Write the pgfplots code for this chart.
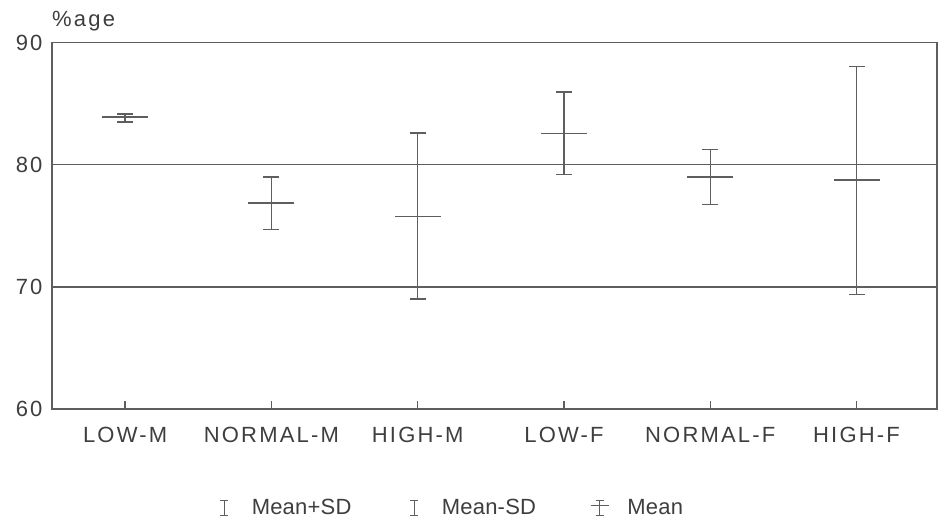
\documentclass[border=0pt]{standalone}
\usepackage{fontspec}
\setmainfont{Liberation Sans}[LetterSpace=10]
\usepackage{pgfplots}
\usepackage{pgfplotstable}
\pgfplotsset{compat=1.18}
\definecolor{ink}{HTML}{5E5E5E}
\definecolor{txt}{HTML}{3E3E3E}
\pgfplotstableread{
x upper mean lower
0 84.15 83.90 83.50
1 79.00 76.85 74.70
2 82.60 75.75 69.00
3 85.95 82.55 79.20
4 81.25 79.00 76.75
5 88.05 78.75 69.40
}\datatable
\newcommand{\lblfont}{\fontsize{22}{26}\selectfont}
\newcommand{\legfont}{\fontsize{22}{26}\selectfont\addfontfeature{LetterSpace=1}}
\begin{document}
\begin{tikzpicture}[font=\lblfont]
\begin{axis}[
  at={(52pt,119pt)}, anchor=south west,
  scale only axis, width=885pt, height=366.5pt,
  xmin=-0.5, xmax=5.55, ymin=60, ymax=90,
  xtick={0,1,2,3,4,5},
  xticklabels={LOW-M,NORMAL-M,HIGH-M,LOW-F,NORMAL-F,HIGH-F},
  ytick={60,70,80,90},
  ymajorgrids, grid style={ink, line width=1.4pt},
  axis line style={ink, line width=1.6pt},
  xtick pos=bottom, ytick pos=left,
  major tick length=8pt, tick align=inside,
  xtick style={ink, line width=1.3pt},
  ytick style={draw=none},
  /pgf/number format/assume math mode=true,
  ticklabel style={text=txt, font=\lblfont},
  xticklabel style={yshift=-15pt},
  yticklabel style={xshift=-6pt},
  legend columns=3,
  legend style={draw=none, fill=none, at={(0.45,-0.27)}, anchor=center,
    text=txt, font=\legfont,
    /tikz/every even column/.append style={column sep=52pt}},
  clip=false,
]
\addplot[ink, line width=1.3pt, only marks, mark=-, mark size=8pt,
  legend image code/.code={\path (0pt,0pt) (33pt,0pt); \draw[ink, line width=1.2pt] (8pt,-7.5pt)--(8pt,7.5pt) (4pt,7.5pt)--(12pt,7.5pt) (4pt,-7.5pt)--(12pt,-7.5pt);}]
  table[x=x, y=upper]{\datatable};
\addlegendentry{Mean+SD}
\addplot[ink, line width=1.3pt, only marks, mark=-, mark size=8pt,
  legend image code/.code={\path (0pt,0pt) (33pt,0pt); \draw[ink, line width=1.2pt] (8pt,-7.5pt)--(8pt,7.5pt) (4pt,7.5pt)--(12pt,7.5pt) (4pt,-7.5pt)--(12pt,-7.5pt);}]
  table[x=x, y=lower]{\datatable};
\addlegendentry{Mean-SD}
\addplot[ink, line width=1.3pt, only marks, mark=-, mark size=23pt,
  legend image code/.code={\path (-1pt,0pt) (33pt,0pt); \draw[ink, line width=1.2pt] (8pt,-7.5pt)--(8pt,7.5pt) (4pt,7.5pt)--(12pt,7.5pt) (4pt,-7.5pt)--(12pt,-7.5pt) (-1pt,2.5pt)--(17pt,2.5pt);},
  error bars/.cd, y dir=both, y explicit, error mark=none,
  error bar style={ink, line width=1.3pt}]
  table[x=x, y=mean, y error plus expr=\thisrow{upper}-\thisrow{mean},
        y error minus expr=\thisrow{mean}-\thisrow{lower}]{\datatable};
\addlegendentry{Mean}
\node[anchor=base west, inner sep=0pt, text=txt] at (rel axis cs:0,1) [yshift=15.5pt] {\%age};
\end{axis}
\pgfresetboundingbox
\path[use as bounding box] (0pt,0pt) rectangle (940pt,528pt);
\end{tikzpicture}
\end{document}
